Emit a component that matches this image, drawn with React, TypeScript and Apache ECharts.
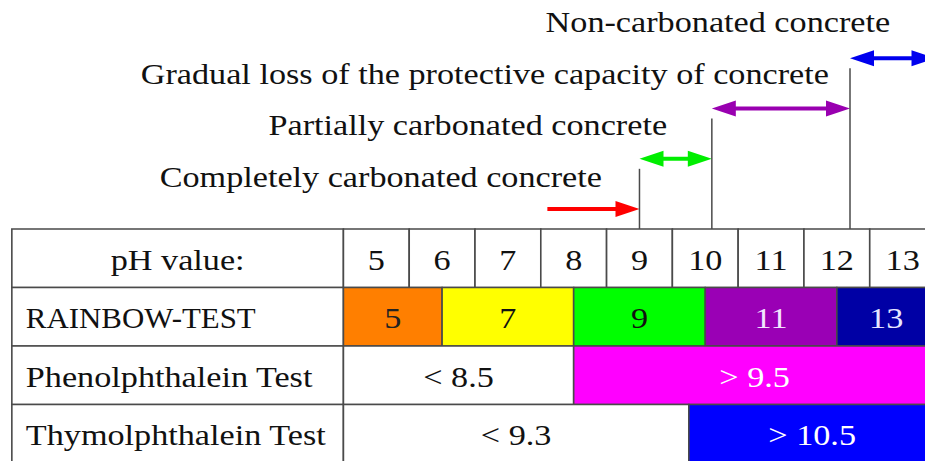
import React, { useEffect, useRef } from "react";
import * as echarts from "echarts";

// ---------- data ----------
const phTicks = [5, 6, 7, 8, 9, 10, 11, 12, 13];
const rowNames = ["pH value:", "RAINBOW-TEST", "Phenolphthalein Test", "Thymolphthalein Test"];

const rainbowBounds = [4.5, 6, 8, 10, 12, 13.5];
const rainbowLabels = ["5", "7", "9", "11", "13"];
const rainbowColors = ["#FF7F00", "#FFFF00", "#00FF00", "#9A00B5", "#0000A5"];
const rainbowTextColors = ["#222222", "#111111", "#111111", "#F2E6FF", "#E6E6FF"];

const phenolBounds = [4.5, 8, 13.5];
const phenolLabels = ["< 8.5", "> 9.5"];
const phenolColors = ["#FFFFFF", "#FF00FF"];
const phenolTextColors = ["#111111", "#FFFFFF"];

const thymolBounds = [4.5, 9.75, 13.5];
const thymolLabels = ["< 9.3", "> 10.5"];
const thymolColors = ["#FFFFFF", "#0000FF"];
const thymolTextColors = ["#111111", "#FFFFFF"];

const zoneNames = [
  "Completely carbonated concrete",
  "Partially carbonated concrete",
  "Gradual loss of the protective capacity of concrete",
  "Non-carbonated concrete",
];
const zoneFrom = [7.6, 9.0, 10.1, 12.2];
const zoneTo = [9.0, 10.1, 12.2, 13.5];
const zoneDoubleHeaded = [false, true, true, true];
const zoneColors = ["#FF0000", "#00EE00", "#9900B0", "#0000EE"];
const zoneLabelEnd = [8.43, 9.42, 11.88, 12.81];

// ---------- layout ----------
const X_MIN = -0.72;
const X_MAX = 13.34;
const Y_MIN = -3.915;
const Y_MAX = 3.966;
const LABEL_LEFT = -0.54;
const LABEL_RIGHT = 4.5;
const FONT = "Liberation Serif";
const FONT_SIZE = 30;
const SCALE_X = 1.14;
const LINE_COLOR = "#4a4a4a";

type Cell = {
  x0: number;
  x1: number;
  row: number;
  fill: string;
  text: string;
  textColor: string;
  align: "left" | "center";
  scale: number;
};

function buildCells(): Cell[] {
  const cells: Cell[] = [];
  rowNames.forEach((name, row) => {
    cells.push({
      x0: LABEL_LEFT,
      x1: LABEL_RIGHT,
      row,
      fill: "#FFFFFF",
      text: name,
      textColor: "#111111",
      align: row === 0 ? "center" : "left",
      scale: name === name.toUpperCase() && row !== 0 ? 1.03 : SCALE_X,
    });
  });
  phTicks.forEach((t) => {
    cells.push({
      x0: t - 0.5,
      x1: t + 0.5,
      row: 0,
      fill: "#FFFFFF",
      text: String(t),
      textColor: "#111111",
      align: "center",
      scale: SCALE_X,
    });
  });
  const addSegments = (
    row: number,
    bounds: number[],
    labels: string[],
    colors: string[],
    textColors: string[]
  ) => {
    labels.forEach((lab, i) => {
      cells.push({
        x0: bounds[i],
        x1: bounds[i + 1],
        row,
        fill: colors[i],
        text: lab,
        textColor: textColors[i],
        align: "center",
        scale: SCALE_X,
      });
    });
  };
  addSegments(1, rainbowBounds, rainbowLabels, rainbowColors, rainbowTextColors);
  addSegments(2, phenolBounds, phenolLabels, phenolColors, phenolTextColors);
  addSegments(3, thymolBounds, thymolLabels, thymolColors, thymolTextColors);
  return cells;
}

export default function App() {
  const ref = useRef<HTMLDivElement>(null);

  useEffect(() => {
    if (!ref.current) return;
    const chart = echarts.init(ref.current, undefined, { renderer: "svg" });
    const cells = buildCells();

    const arrowY = (i: number) => -(0.34 + 0.86 * i);
    const labelY = (i: number) => -(0.9 + 0.88 * i);

    const option: any = {
      animation: false,
      backgroundColor: "#FFFFFF",
      grid: { left: 0, right: 0, top: 0, bottom: 0 },
      xAxis: { type: "value", min: X_MIN, max: X_MAX, show: false },
      yAxis: { type: "value", min: Y_MIN, max: Y_MAX, inverse: true, show: false },
      series: [
        {
          type: "custom",
          coordinateSystem: "cartesian2d",
          encode: { x: [0, 1], y: 2 },
          data: cells.map((c) => [c.x0, c.x1, c.row]),
          renderItem: (params: any, api: any) => {
            const c = cells[params.dataIndex];
            const p0 = api.coord([api.value(0), api.value(2)]);
            const p1 = api.coord([api.value(1), api.value(2) + 1]);
            const tx = c.align === "left" ? p0[0] + 14 : (p0[0] + p1[0]) / 2;
            return {
              type: "group",
              children: [
                {
                  type: "rect",
                  shape: { x: p0[0], y: p0[1], width: p1[0] - p0[0], height: p1[1] - p0[1] },
                  style: { fill: c.fill, stroke: LINE_COLOR, lineWidth: 1.6 },
                },
                {
                  type: "text",
                  x: tx,
                  y: (p0[1] + p1[1]) / 2 + 1,
                  scaleX: c.scale,
                  style: {
                    text: c.text,
                    fill: c.textColor,
                    fontFamily: FONT,
                    fontSize: FONT_SIZE,
                    align: c.align,
                    verticalAlign: "middle",
                  },
                },
              ],
            };
          },
        },
        {
          type: "custom",
          coordinateSystem: "cartesian2d",
          encode: { x: [0, 1] },
          data: zoneNames.map((_, i) => [zoneFrom[i], zoneTo[i], i]),
          renderItem: (params: any, api: any) => {
            const i = params.dataIndex;
            const color = zoneColors[i];
            const y = arrowY(i);
            const a = api.coord([api.value(0), y]);
            const b = api.coord([api.value(1), y]);
            const H = 24;
            const W = 8;
            const children: any[] = [];
            const sx0 = zoneDoubleHeaded[i] ? a[0] + H * 0.6 : a[0];
            const sx1 = b[0] - H * 0.6;
            children.push({
              type: "line",
              shape: { x1: sx0, y1: a[1], x2: sx1, y2: b[1] },
              style: { stroke: color, lineWidth: 4 },
            });
            children.push({
              type: "polygon",
              shape: { points: [[b[0], b[1]], [b[0] - H, b[1] - W], [b[0] - H, b[1] + W]] },
              style: { fill: color },
            });
            if (zoneDoubleHeaded[i]) {
              children.push({
                type: "polygon",
                shape: { points: [[a[0], a[1]], [a[0] + H, a[1] - W], [a[0] + H, a[1] + W]] },
                style: { fill: color },
              });
              const bottom = api.coord([zoneFrom[i], 0]);
              children.push({
                type: "line",
                shape: { x1: a[0], y1: a[1] + 10, x2: a[0], y2: bottom[1] },
                style: { stroke: LINE_COLOR, lineWidth: 1.5 },
              });
            }
            const lp = api.coord([zoneLabelEnd[i], labelY(i)]);
            children.push({
              type: "text",
              x: lp[0],
              y: lp[1],
              scaleX: SCALE_X,
              style: {
                text: zoneNames[i],
                fill: "#111111",
                fontFamily: FONT,
                fontSize: FONT_SIZE,
                align: "right",
                verticalAlign: "middle",
              },
            });
            return { type: "group", children };
          },
        },
      ],
    };
    chart.setOption(option);
    return () => chart.dispose();
  }, []);

  return (
    <div
      ref={ref}
      style={{ position: "absolute", left: 0, top: 0, width: 925, height: 461, background: "#FFFFFF" }}
    />
  );
}
